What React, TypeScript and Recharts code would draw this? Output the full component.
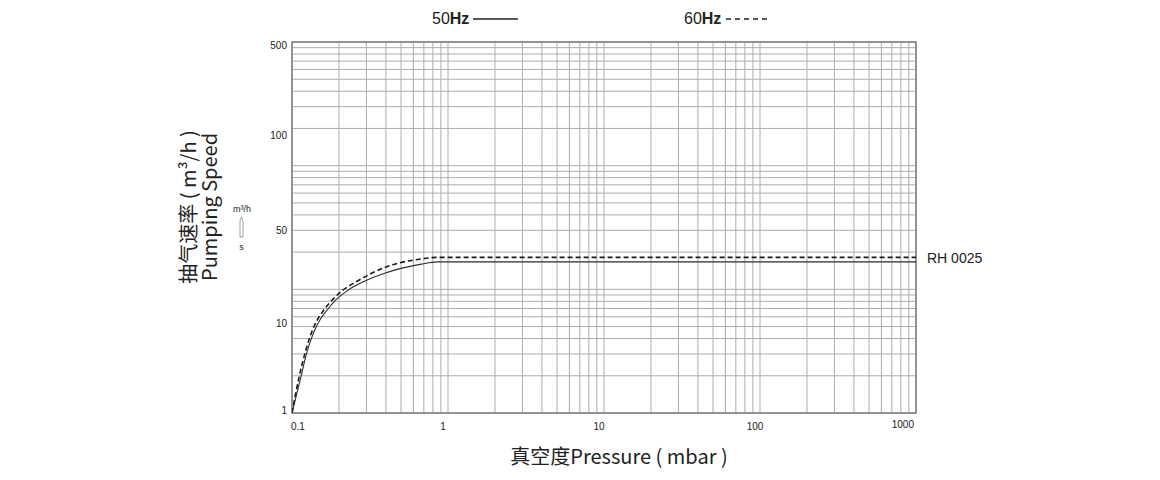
import { CartesianGrid, Legend, Line, LineChart, ReferenceArea, XAxis, YAxis } from "recharts";

document.body.style.margin = "0";

// 50Hz curve: pressure (mbar) vs pumping speed (m3/h, as printed on the y labels)
const pressure50 = [0.1, 0.114, 0.124, 0.134, 0.145, 0.168, 0.191, 0.229, 0.285, 0.393, 0.674, 0.85, 1000];
const speed50 = [1, 2.6, 4.9, 7.5, 10.3, 13.2, 15.6, 18.4, 21.1, 24.4, 28.4, 29.5, 29.5];

// 60Hz curve
const pressure60 = [0.1, 0.111, 0.121, 0.13, 0.14, 0.16, 0.181, 0.212, 0.257, 0.393, 0.674, 0.85, 1000];
const speed60 = [1, 2.6, 4.9, 7.5, 10.3, 13.2, 15.6, 18.4, 21.1, 26.9, 31.0, 31.8, 31.8];

const pressureTicks = [0.1, 1, 10, 100, 1000];
const pressureLabels = ["0.1", "1", "10", "100", "1000"];

// printed speed labels and the log-paper rows they sit on
const speedTicks = [1, 10, 50, 100, 500];
const paperTicks = [1, 5, 30, 200, 1000];

const modelName = "RH 0025";

const decadeSteps = [1, 2, 3, 4, 5, 6, 7, 8, 9];
const xGrid = [0.1, 1, 10, 100].flatMap((d) => decadeSteps.map((s) => s * d)).concat(1000);
const yGrid = [1, 10, 100].flatMap((d) => decadeSteps.map((s) => s * d)).concat(1000);

// the paper is plain 3-decade log paper; labels are stuck on at odd rows,
// so speed values are interpolated (log-wise) between the labelled rows
function toPaper(v: number) {
  for (let i = 0; i < speedTicks.length - 1; i++) {
    const a = speedTicks[i];
    const b = speedTicks[i + 1];
    if (v <= b || i === speedTicks.length - 2) {
      const f = Math.log(v / a) / Math.log(b / a);
      return paperTicks[i] * Math.pow(paperTicks[i + 1] / paperTicks[i], f);
    }
  }
  return v;
}

const rows50 = pressure50.map((p, i) => ({ pressure: p, speed: speed50[i] }));
const rows60 = pressure60.map((p, i) => ({ pressure: p, speed: speed60[i] }));

const NUM_FONT = "'Liberation Sans', Arial, sans-serif";
const CJK_FONT = "'Noto Sans CJK SC', 'Noto Sans', sans-serif";

function PressureTick(props: any) {
  const { x, y, index } = props;
  const last = index === pressureTicks.length - 1;
  const anchor = index === 0 ? "start" : last ? "end" : "middle";
  const dx = index === 0 ? -1 : last ? -2 : -5;
  return (
    <text x={x + dx} y={y + (last ? 15 : 17)} textAnchor={anchor} fontSize={10} fill="#222" fontFamily={NUM_FONT}>
      {pressureLabels[index]}
    </text>
  );
}

const SPEED_NUDGE = [1, 0, 4, 11, 7];

function SpeedTick(props: any) {
  const { x, y, payload } = props;
  const i = paperTicks.indexOf(payload.value);
  return (
    <text x={x - 5} y={y + (SPEED_NUDGE[i] ?? 3)} textAnchor="end" fontSize={10} fill="#222" fontFamily={NUM_FONT}>
      {speedTicks[i]}
    </text>
  );
}

function SpeedTitle() {
  return (
    <g>
      <text transform="translate(196,207) rotate(-90)" textAnchor="middle" fontSize={20} fill="#222" fontFamily={CJK_FONT}>
        抽气速率 ( m³/h )
      </text>
      <text transform="translate(217,207) rotate(-90)" textAnchor="middle" fontSize={20} fill="#222" fontFamily={CJK_FONT}>
        Pumping Speed
      </text>
      <text x={242} y={212} textAnchor="middle" fontSize={9} fill="#222" fontFamily={NUM_FONT}>
        m³/h
      </text>
      <path d="M240,237 L240,221 L241.5,217 L243,221 L243,237 Z" fill="none" stroke="#666" strokeWidth={0.6} />
      <text x={241.5} y={250} textAnchor="middle" fontSize={9} fill="#222" fontFamily={NUM_FONT}>
        s
      </text>
    </g>
  );
}

function PressureTitle() {
  return (
    <text x={619} y={464} textAnchor="middle" fontSize={20} fill="#222" fontFamily={CJK_FONT}>
      真空度Pressure ( mbar )
    </text>
  );
}

function HzLegend() {
  return (
    <svg width={1160} height={40}>
      <text x={432} y={24} fontSize={16} fill="#222" fontFamily={NUM_FONT}>
        50<tspan fontWeight="bold">Hz</tspan>
      </text>
      <line x1={473} x2={518} y1={19} y2={19} stroke="#222" strokeWidth={1.3} />
      <text x={684} y={24} fontSize={16} fill="#222" fontFamily={NUM_FONT}>
        60<tspan fontWeight="bold">Hz</tspan>
      </text>
      <line x1={726} x2={768} y1={19} y2={19} stroke="#222" strokeWidth={1.3} strokeDasharray="5 4" />
    </svg>
  );
}

function renderModelTag(props: any) {
  if (props.index !== speed50.length - 1) return null;
  return (
    <text x={props.x + 11} y={props.y + 1.5} fontSize={14} fill="#222" fontFamily={NUM_FONT}>
      {modelName}
    </text>
  );
}

export default function App() {
  return (
    <div style={{ width: 1160, height: 480, position: "relative", background: "#fff" }}>
      <LineChart width={1160} height={480} margin={{ top: 42, right: 244, bottom: 0, left: 0 }}>
        <CartesianGrid horizontalValues={yGrid} verticalValues={xGrid} stroke="#adadad" strokeWidth={1} />
        <XAxis
          dataKey="pressure"
          type="number"
          scale="log"
          domain={[0.1, 1000]}
          allowDataOverflow
          ticks={pressureTicks}
          interval={0}
          height={67}
          axisLine={false}
          tickLine={false}
          tickSize={0}
          tickMargin={0}
          tick={<PressureTick />}
          label={<PressureTitle />}
        />
        <YAxis
          type="number"
          scale="log"
          domain={[1, 1000]}
          allowDataOverflow
          ticks={paperTicks}
          interval={0}
          width={292}
          axisLine={false}
          tickLine={false}
          tickSize={0}
          tickMargin={0}
          tick={<SpeedTick />}
          label={<SpeedTitle />}
        />
        <ReferenceArea x1={0.1} x2={1000} y1={1} y2={1000} fill="none" stroke="#7d7d7d" strokeWidth={1.5} ifOverflow="visible" />
        <Legend
          layout="vertical"
          align="center"
          verticalAlign="middle"
          wrapperStyle={{ position: "absolute", top: 0, left: 0, width: 1160, height: 40 }}
          content={<HzLegend />}
        />
        <Line
          data={rows50}
          dataKey={(r: any) => toPaper(r.speed)}
          name="50Hz"
          type="monotone"
          stroke="#2a2a2a"
          strokeWidth={1.1}
          dot={false}
          isAnimationActive={false}
          label={renderModelTag}
        />
        <Line
          data={rows60}
          dataKey={(r: any) => toPaper(r.speed)}
          name="60Hz"
          type="monotone"
          stroke="#1a1a1a"
          strokeWidth={1.6}
          strokeDasharray="5 3"
          dot={false}
          isAnimationActive={false}
        />
      </LineChart>
    </div>
  );
}
